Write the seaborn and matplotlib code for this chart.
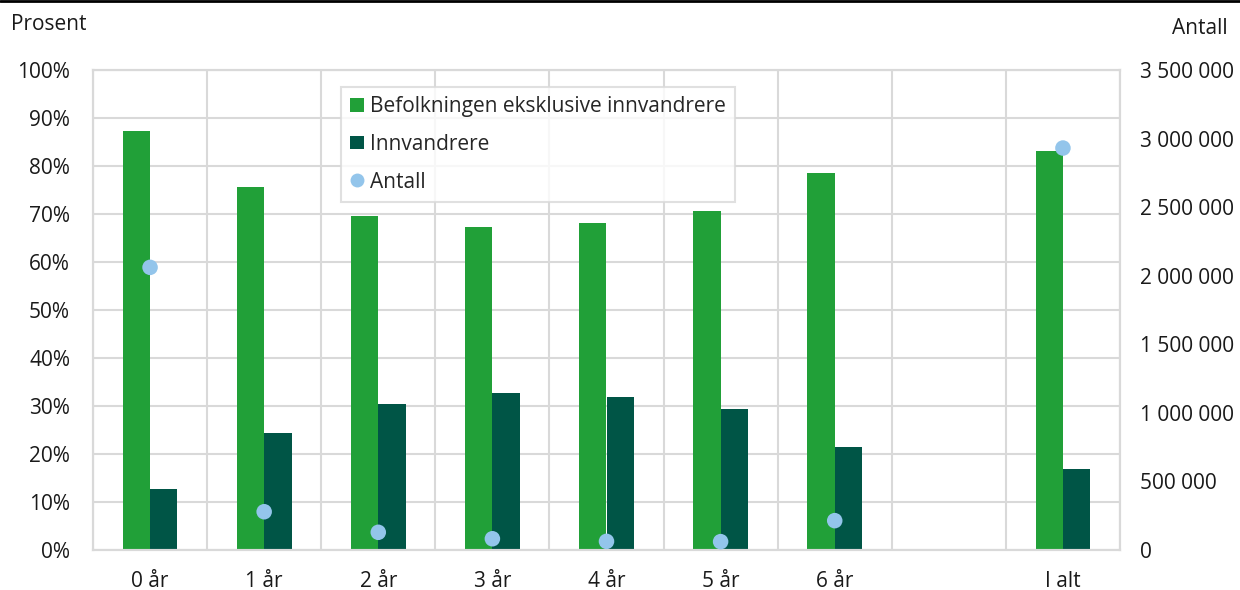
import numpy as np
import pandas as pd
import matplotlib
matplotlib.use('Agg')
import matplotlib.pyplot as plt
import seaborn as sns
from matplotlib.patches import Patch
from matplotlib.lines import Line2D
from matplotlib.ticker import FuncFormatter, MultipleLocator

# Data
categories = ['0 år', '1 år', '2 år', '3 år', '4 år', '5 år', '6 år', ' ', 'I alt']
befolkning_eksl = [87.2, 75.6, 69.5, 67.2, 68.1, 70.7, 78.5, np.nan, 83.2]
innvandrere = [12.8, 24.4, 30.5, 32.8, 31.9, 29.3, 21.5, np.nan, 16.8]
antall = [2061000, 279000, 129000, 82000, 63000, 61000, 214000, np.nan, 2931000]

series_names = ['Befolkningen eksklusive innvandrere', 'Innvandrere']
left_ticks = list(range(0, 101, 10))
right_ticks = list(range(0, 3500001, 500000))

green = '#21a038'
dark_green = '#005546'
light_blue = '#93c5eb'
grid_grey = '#d9d9d9'
text_col = '#1a1a1a'
fs = 15

sns.set_theme(style='white')
plt.rcParams['font.family'] = ['Open Sans', 'DejaVu Sans']
plt.rcParams['font.size'] = fs

# Long format for seaborn
df = pd.DataFrame({
    'kategori': categories * 2,
    'gruppe': [series_names[0]] * len(categories) + [series_names[1]] * len(categories),
    'andel': befolkning_eksl + innvandrere,
})

fig = plt.figure(figsize=(12.4, 5.9), dpi=100)
ax = fig.add_axes([93 / 1240, 40 / 590, (1120 - 93) / 1240, 480 / 590])

sns.barplot(data=df, x='kategori', y='andel', hue='gruppe', order=categories,
            hue_order=series_names, palette=[green, dark_green], width=0.48,
            gap=0, saturation=1, errorbar=None, legend=False, linewidth=0,
            ax=ax, zorder=2)

ax.set_xlim(-0.5, len(categories) - 0.5)
ax.set_ylim(0, 100)
ax.set_yticks(left_ticks)
ax.yaxis.set_major_formatter(FuncFormatter(lambda v, p: f'{v:.0f}%'))
ax.xaxis.set_minor_locator(MultipleLocator(1, offset=0.5))
ax.set_axisbelow(True)
ax.grid(axis='y', which='major', color=grid_grey, lw=1.5)
ax.grid(axis='x', which='minor', color=grid_grey, lw=1.5)
ax.grid(axis='x', which='major', visible=False)
ax.tick_params(axis='both', which='both', length=0, labelsize=fs, colors=text_col)
ax.tick_params(axis='x', pad=15)
ax.tick_params(axis='y', pad=16.5)
ax.set_xlabel('')
ax.set_ylabel('')
for s in ax.spines.values():
    s.set_color(grid_grey)
    s.set_linewidth(1.5)

# Right axis: antall
ax2 = ax.twinx()
pts = pd.DataFrame({'pos': np.arange(len(categories)), 'antall': antall}).dropna()
sns.scatterplot(data=pts, x='pos', y='antall', ax=ax2, color=light_blue, s=125,
                edgecolor='none', linewidth=0, zorder=3, legend=False)
ax2.set_ylim(0, 3500000)
ax2.set_yticks(right_ticks)
ax2.yaxis.set_major_formatter(FuncFormatter(lambda v, p: f'{int(v):,}'.replace(',', ' ')))
ax2.tick_params(axis='y', length=0, labelsize=fs, pad=14.5, colors=text_col)
ax2.set_ylabel('')
ax2.set_xlim(-0.5, len(categories) - 0.5)
for s in ax2.spines.values():
    s.set_color(grid_grey)
    s.set_linewidth(1.5)

fig.text(11 / 1240, 1 - 25 / 590, 'Prosent', ha='left', va='center', fontsize=fs, color=text_col)
fig.text(1228 / 1240, 1 - 28 / 590, 'Antall', ha='right', va='center', fontsize=fs, color=text_col)

handles = [
    Patch(facecolor=green, edgecolor='none', label=series_names[0]),
    Patch(facecolor=dark_green, edgecolor='none', label=series_names[1]),
    Line2D([], [], marker='o', linestyle='none', markersize=10, markerfacecolor=light_blue,
           markeredgecolor='none', label='Antall'),
]
leg = ax2.legend(handles=handles, loc='upper left', bbox_to_anchor=(0.2415, 0.965),
                 frameon=True, fancybox=False, edgecolor=grid_grey, fontsize=fs,
                 handlelength=0.65, handleheight=0.65, handletextpad=0.3,
                 labelspacing=0.8, borderpad=0.45, borderaxespad=0)
leg.get_frame().set_linewidth(1.5)

# black line along the top edge of the figure
fig.add_artist(Line2D([0, 1], [0.998, 0.998], color='black', lw=2, transform=fig.transFigure))

fig.savefig('out.png', dpi=100)
